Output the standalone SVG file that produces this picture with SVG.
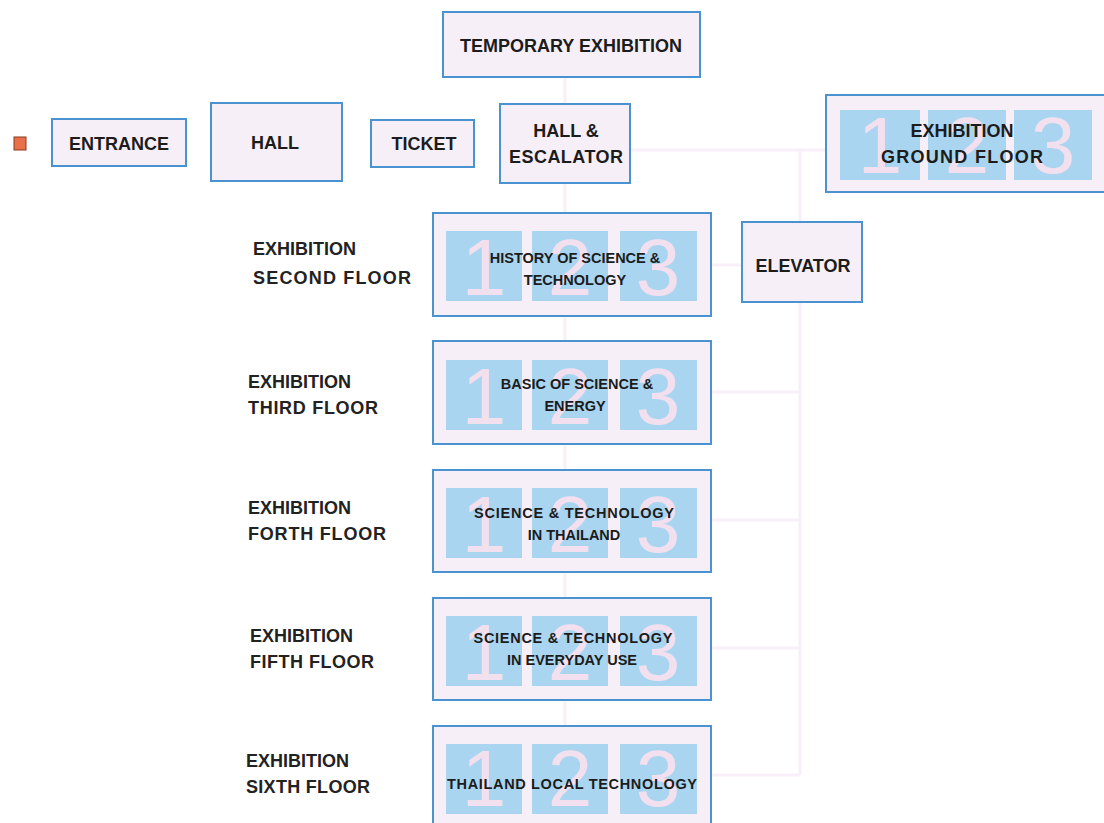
<svg xmlns="http://www.w3.org/2000/svg" width="1104" height="823" viewBox="0 0 1104 823">
<style>
.box{fill:#f7eff7;stroke:#4a93d0;stroke-width:2}
.tile{fill:#a9d5f0}
.num{font-family:"Liberation Sans",Arial,sans-serif;font-size:80px;fill:#f3e0ee;text-anchor:middle}
.t{font-family:"Liberation Sans",Arial,sans-serif;font-weight:bold;fill:#1c1c1c;text-anchor:middle}
.big{font-size:18px}
.sm{font-size:14.5px}
.lab{font-family:"Liberation Sans",Arial,sans-serif;font-weight:bold;font-size:18px;fill:#222}
.faint{stroke:#f8f0f8;stroke-width:3;fill:none}
</style>
<rect width="1104" height="823" fill="#ffffff"/>
<g id="connectors">
<path class="faint" d="M565 77V104M565 183V213M565 316V341M565 443V470M565 572V598M565 700V726"/>
<path class="faint" d="M630 150H826M800 150V775M711 265H742M711 392H800M711 520H800M711 648H800M711 775H800"/>
</g>
<g id="start"><rect x="14" y="137" width="12" height="13" fill="#e8704a" stroke="#8a3a20" stroke-width="1"/></g>
<g id="temporary"><rect class="box" x="443" y="12" width="257" height="65"/><text class="t big" x="571" y="52">TEMPORARY EXHIBITION</text></g>
<g id="entrance"><rect class="box" x="52" y="119" width="134" height="47"/><text class="t big" x="119" y="150">ENTRANCE</text></g>
<g id="hall"><rect class="box" x="211" y="103" width="131" height="78"/><text class="t big" x="275" y="149">HALL</text></g>
<g id="ticket"><rect class="box" x="371" y="120" width="103" height="47"/><text class="t big" x="424" y="150">TICKET</text></g>
<g id="hall-escalator"><rect class="box" x="500" y="104" width="130" height="79"/><text class="t big" x="566" y="137">HALL &amp;</text><text class="t big" x="566" y="163" textLength="114">ESCALATOR</text></g>
<g id="ground-floor"><rect class="box" x="826" y="95" width="290" height="97"/>
<rect class="tile" x="840" y="110" width="80" height="70"/><rect class="tile" x="928" y="110" width="78" height="70"/><rect class="tile" x="1014" y="110" width="78" height="70"/>
<text class="num" x="880" y="173">1</text><text class="num" x="967" y="173">2</text><text class="num" x="1053" y="173">3</text>
<text class="t big" x="962" y="137">EXHIBITION</text><text class="t big" x="962" y="163" textLength="162">GROUND FLOOR</text></g>
<g id="elevator"><rect class="box" x="742" y="222" width="120" height="80"/><text class="t big" x="803" y="272">ELEVATOR</text></g>
<g id="floor2"><rect class="box" x="433" y="213" width="278" height="103"/>
<rect class="tile" x="446" y="231" width="76" height="70"/><rect class="tile" x="532" y="231" width="76" height="70"/><rect class="tile" x="620" y="231" width="77" height="70"/>
<text class="num" x="484" y="295">1</text><text class="num" x="570" y="295">2</text><text class="num" x="658" y="295">3</text>
<text class="t sm" x="575" y="263">HISTORY OF SCIENCE &amp;</text><text class="t sm" x="575" y="285">TECHNOLOGY</text></g>
<g id="floor3"><rect class="box" x="433" y="341" width="278" height="103"/>
<rect class="tile" x="446" y="360" width="76" height="70"/><rect class="tile" x="532" y="360" width="76" height="70"/><rect class="tile" x="620" y="360" width="77" height="70"/>
<text class="num" x="484" y="424">1</text><text class="num" x="570" y="424">2</text><text class="num" x="658" y="424">3</text>
<text class="t sm" x="577" y="389">BASIC OF SCIENCE &amp;</text><text class="t sm" x="575" y="411">ENERGY</text></g>
<g id="floor4"><rect class="box" x="433" y="470" width="278" height="102"/>
<rect class="tile" x="446" y="488" width="76" height="70"/><rect class="tile" x="532" y="488" width="76" height="70"/><rect class="tile" x="620" y="488" width="77" height="70"/>
<text class="num" x="484" y="552">1</text><text class="num" x="570" y="552">2</text><text class="num" x="658" y="552">3</text>
<text class="t sm" x="574" y="518" textLength="200">SCIENCE &amp; TECHNOLOGY</text><text class="t sm" x="574" y="540">IN THAILAND</text></g>
<g id="floor5"><rect class="box" x="433" y="598" width="278" height="102"/>
<rect class="tile" x="446" y="616" width="76" height="70"/><rect class="tile" x="532" y="616" width="76" height="70"/><rect class="tile" x="620" y="616" width="77" height="70"/>
<text class="num" x="484" y="680">1</text><text class="num" x="570" y="680">2</text><text class="num" x="658" y="680">3</text>
<text class="t sm" x="573" y="643" textLength="199">SCIENCE &amp; TECHNOLOGY</text><text class="t sm" x="572" y="665">IN EVERYDAY USE</text></g>
<g id="floor6"><rect class="box" x="433" y="726" width="278" height="104"/>
<rect class="tile" x="446" y="744" width="76" height="70"/><rect class="tile" x="532" y="744" width="76" height="70"/><rect class="tile" x="620" y="744" width="77" height="70"/>
<text class="num" x="484" y="806">1</text><text class="num" x="570" y="806">2</text><text class="num" x="658" y="806">3</text>
<text class="t sm" x="572" y="789" textLength="250">THAILAND LOCAL TECHNOLOGY</text></g>
<g id="labels">
<text class="lab" x="253" y="255">EXHIBITION</text><text class="lab" x="253" y="284" textLength="158">SECOND FLOOR</text>
<text class="lab" x="248" y="388">EXHIBITION</text><text class="lab" x="248" y="414" textLength="130">THIRD FLOOR</text>
<text class="lab" x="248" y="514">EXHIBITION</text><text class="lab" x="248" y="540" textLength="138">FORTH FLOOR</text>
<text class="lab" x="250" y="642">EXHIBITION</text><text class="lab" x="250" y="668" textLength="124">FIFTH FLOOR</text>
<text class="lab" x="246" y="767">EXHIBITION</text><text class="lab" x="246" y="793" textLength="124">SIXTH FLOOR</text>
</g>
</svg>
